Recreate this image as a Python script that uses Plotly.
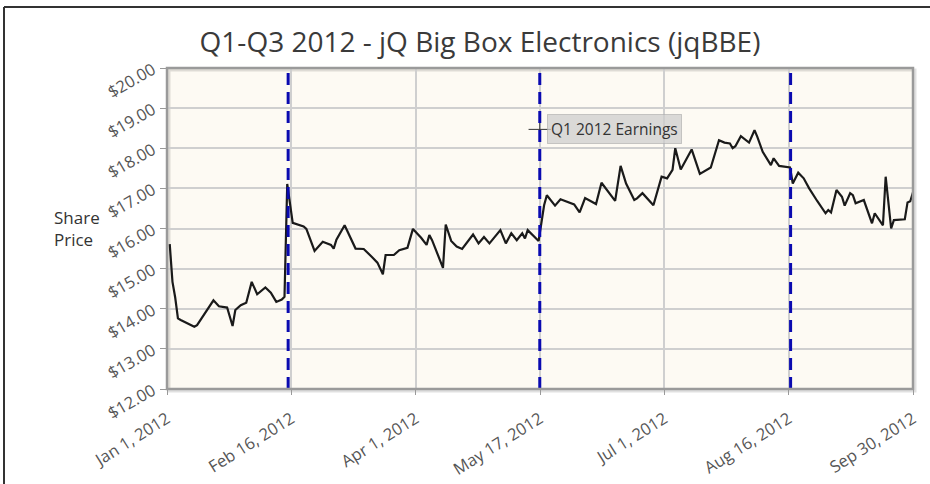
import plotly.graph_objects as go

# Daily closing share price, Q1-Q3 2012
dates = [
    "2012-01-02", "2012-01-03", "2012-01-04", "2012-01-05", "2012-01-06", "2012-01-11",
    "2012-01-12", "2012-01-14", "2012-01-18", "2012-01-20", "2012-01-23", "2012-01-25",
    "2012-01-26", "2012-01-28", "2012-01-30", "2012-02-01", "2012-02-03", "2012-02-06",
    "2012-02-08", "2012-02-10", "2012-02-12", "2012-02-13", "2012-02-14", "2012-02-16",
    "2012-02-20", "2012-02-21", "2012-02-24", "2012-02-27", "2012-03-01", "2012-03-02",
    "2012-03-03", "2012-03-06", "2012-03-10", "2012-03-13", "2012-03-15", "2012-03-16",
    "2012-03-18", "2012-03-20", "2012-03-21", "2012-03-24", "2012-03-26", "2012-03-29",
    "2012-03-31", "2012-04-03", "2012-04-05", "2012-04-06", "2012-04-07", "2012-04-11",
    "2012-04-12", "2012-04-14", "2012-04-16", "2012-04-18", "2012-04-22", "2012-04-24",
    "2012-04-26", "2012-04-28", "2012-05-02", "2012-05-04", "2012-05-06", "2012-05-08",
    "2012-05-10", "2012-05-11", "2012-05-12", "2012-05-16", "2012-05-18", "2012-05-19",
    "2012-05-22", "2012-05-24", "2012-05-29", "2012-05-31", "2012-06-02", "2012-06-06",
    "2012-06-08", "2012-06-10", "2012-06-13", "2012-06-15", "2012-06-17", "2012-06-20",
    "2012-06-21", "2012-06-23", "2012-06-27", "2012-06-30", "2012-07-02", "2012-07-04",
    "2012-07-05", "2012-07-07", "2012-07-11", "2012-07-14", "2012-07-18", "2012-07-21",
    "2012-07-23", "2012-07-25", "2012-07-26", "2012-07-27", "2012-07-29", "2012-08-01",
    "2012-08-03", "2012-08-04", "2012-08-06", "2012-08-09", "2012-08-10", "2012-08-12",
    "2012-08-16", "2012-08-17", "2012-08-19", "2012-08-21", "2012-08-23", "2012-08-26",
    "2012-08-29", "2012-08-30", "2012-08-31", "2012-09-02", "2012-09-04", "2012-09-05",
    "2012-09-07", "2012-09-08", "2012-09-09", "2012-09-12", "2012-09-15", "2012-09-16",
    "2012-09-19", "2012-09-20", "2012-09-22", "2012-09-23", "2012-09-27", "2012-09-28",
    "2012-09-29", "2012-09-30",
]
prices = [
    15.61, 14.67, 14.28, 13.76, 13.72, 13.55,
    13.59, 13.80, 14.21, 14.06, 14.03, 13.57,
    13.97, 14.09, 14.15, 14.67, 14.36, 14.53,
    14.40, 14.17, 14.23, 14.30, 17.11, 16.14,
    16.05, 15.99, 15.44, 15.67, 15.59, 15.50,
    15.72, 16.08, 15.50, 15.49, 15.34, 15.29,
    15.15, 14.86, 15.34, 15.34, 15.46, 15.52,
    15.99, 15.77, 15.59, 15.84, 15.71, 15.02,
    16.10, 15.69, 15.55, 15.49, 15.85, 15.63,
    15.79, 15.63, 15.96, 15.63, 15.88, 15.71,
    15.88, 15.75, 15.96, 15.69, 16.58, 16.83,
    16.57, 16.73, 16.60, 16.40, 16.76, 16.61,
    17.14, 16.96, 16.69, 17.56, 17.12, 16.71,
    16.75, 16.88, 16.58, 17.29, 17.25, 17.46,
    18.00, 17.47, 17.97, 17.36, 17.52, 18.20,
    18.14, 18.12, 18.00, 18.05, 18.30, 18.14,
    18.45, 18.29, 17.91, 17.58, 17.75, 17.56,
    17.52, 17.12, 17.39, 17.25, 17.00, 16.68,
    16.38, 16.46, 16.40, 16.96, 16.79, 16.57,
    16.88, 16.83, 16.63, 16.71, 16.13, 16.38,
    16.08, 17.29, 16.00, 16.21, 16.23, 16.65,
    16.68, 16.90,
]

# Evenly spaced date ticks across the range
tick_dates = [
    "2012-01-01", "2012-02-15 12:00", "2012-04-01", "2012-05-16 12:00",
    "2012-07-01", "2012-08-15 12:00", "2012-09-30",
]
tick_labels = [
    "Jan 1, 2012", "Feb 16, 2012", "Apr 1, 2012", "May 17, 2012",
    "Jul 1, 2012", "Aug 16, 2012", "Sep 30, 2012",
]
y_ticks = [12, 13, 14, 15, 16, 17, 18, 19, 20]
y_labels = ["$%.2f" % v for v in y_ticks]

# Earnings announcement markers
earnings_dates = ["2012-02-14 08:00", "2012-05-16 10:00", "2012-08-16 05:00"]
note_date = "2012-05-16 10:00"
note_price = 18.47
note_text = "Q1 2012 Earnings"

W, H = 930, 484
L, R, T, B = 167, 17, 68, 95
PW, PH = W - L - R, H - T - B


def px_x(px):
    return (px - L) / PW


def px_y(py):
    return (H - B - py) / PH


FONT = "Open Sans"

fig = go.Figure()

fig.add_trace(go.Scatter(
    x=dates, y=prices, mode="lines",
    line=dict(color="#1a1a1a", width=2.2),
    hoverinfo="skip", showlegend=False,
))

fig.add_trace(go.Scatter(
    x=[note_date], y=[note_price], mode="markers",
    marker=dict(symbol="cross-thin", size=16, line=dict(color="#333333", width=1)),
    hoverinfo="skip", showlegend=False,
))

shapes = []
# plot-area shadow and border
shapes.append(dict(type="rect", xref="paper", yref="paper",
                   x0=px_x(L + 2), x1=px_x(W - R + 2), y0=px_y(H - B + 2), y1=px_y(T + 2),
                   line=dict(color="rgba(0,0,0,0.12)", width=3), layer="below"))
for d in earnings_dates:
    shapes.append(dict(type="line", xref="x", yref="paper", x0=d, x1=d, y0=0, y1=1,
                       line=dict(color="#0a0ab0", width=3, dash="12px,7px")))
shapes.append(dict(type="rect", xref="paper", yref="paper", x0=0, x1=1, y0=0, y1=1,
                   line=dict(color="#9a9a9a", width=2.5)))
# outer frame (top and left edges)
shapes.append(dict(type="line", xref="paper", yref="paper",
                   x0=px_x(4), x1=px_x(W + 5), y0=px_y(7), y1=px_y(7),
                   line=dict(color="#333333", width=2)))
shapes.append(dict(type="line", xref="paper", yref="paper",
                   x0=px_x(4), x1=px_x(4), y0=px_y(7), y1=px_y(H + 5),
                   line=dict(color="#333333", width=2)))

annotations = [
    dict(x=note_date, y=note_price, xref="x", yref="y", text=note_text,
         showarrow=False, xanchor="left", yanchor="middle", xshift=7,
         font=dict(family=FONT, size=15.5, color="#333333"),
         bgcolor="rgba(205,205,205,0.75)", bordercolor="rgba(170,170,170,0.6)",
         borderwidth=1, borderpad=3),
    dict(x=px_x(52), y=px_y(229), xref="paper", yref="paper",
         text="Share<br>Price", showarrow=False, xanchor="left", yanchor="middle",
         align="left", font=dict(family=FONT, size=17, color="#333333")),
]

fig.update_layout(
    width=W, height=H,
    margin=dict(l=L, r=R, t=T, b=B, pad=0),
    paper_bgcolor="white",
    plot_bgcolor="#fdfaf3",
    title=dict(text="Q1-Q3 2012 - jQ Big Box Electronics (jqBBE)",
               x=480 / W, xanchor="center", xref="container",
               y=1 - 42 / H, yanchor="middle", yref="container",
               font=dict(family=FONT, size=28, color="#3a3a3a")),
    xaxis=dict(
        type="date", range=["2012-01-01", "2012-09-30"], automargin=False,
        tickmode="array", tickvals=tick_dates, ticktext=tick_labels,
        tickangle=-32, showgrid=True, gridcolor="#cfcfcf", gridwidth=1.5,
        ticks="outside", ticklen=5, tickcolor="#999999", ticklabelstandoff=8,
        tickfont=dict(family=FONT, size=16.5, color="#555555"),
        zeroline=False, showline=False,
    ),
    yaxis=dict(
        range=[12, 20], automargin=False,
        tickmode="array", tickvals=y_ticks, ticktext=y_labels,
        tickangle=-30, showgrid=True, gridcolor="#cfcfcf", gridwidth=1.5,
        ticks="outside", ticklen=6, tickcolor="#999999", ticklabelstandoff=4,
        tickfont=dict(family=FONT, size=16.5, color="#555555"),
        zeroline=False, showline=False,
    ),
    shapes=shapes,
    annotations=annotations,
)

fig.write_html("out.html")
